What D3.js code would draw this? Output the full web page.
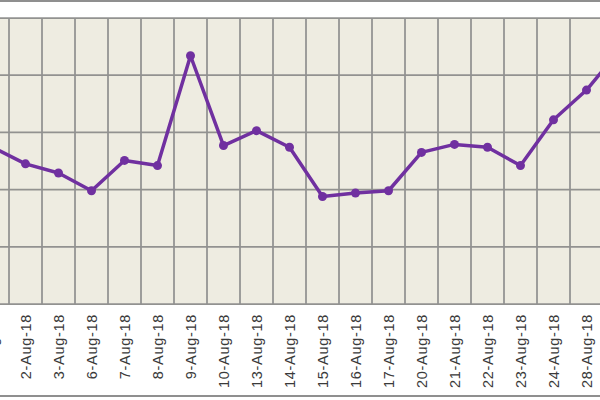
<!DOCTYPE html>
<html>
<head>
<meta charset="utf-8">
<script src="https://cdn.jsdelivr.net/npm/d3@7"></script>
<style>
  body { margin: 0; background: #fff; }
  svg { display: block; }
</style>
</head>
<body>
<div id="chart"></div>
<script>
// categories (trading days) and values
const dates = ['1-Aug-18', '2-Aug-18', '3-Aug-18', '6-Aug-18', '7-Aug-18', '8-Aug-18', '9-Aug-18',
    '10-Aug-18', '13-Aug-18', '14-Aug-18', '15-Aug-18', '16-Aug-18', '17-Aug-18', '20-Aug-18',
    '21-Aug-18', '22-Aug-18', '23-Aug-18', '24-Aug-18', '28-Aug-18', '29-Aug-18'];
const values = [2.74, 2.45, 2.29, 1.98, 2.51, 2.42, 4.34, 2.77, 3.03, 2.74,
    1.88, 1.94, 1.98, 2.65, 2.79, 2.74, 2.42, 3.22, 3.74, 4.44];
const yTicks = [0, 1, 2, 3, 4, 5];

const width = 600, height = 400;
const plotTop = 18, plotBottom = 304;

const svg = d3.select("#chart")
    .append("svg")
    .attr("width", width)
    .attr("height", height);

// frame lines of the cropped chart
svg.append("line").attr("x1", 0).attr("x2", width).attr("y1", 1).attr("y2", 1)
    .attr("stroke", "#8f8f8f").attr("stroke-width", 2);
svg.append("line").attr("x1", 0).attr("x2", width).attr("y1", 396).attr("y2", 396)
    .attr("stroke", "#8f8f8f").attr("stroke-width", 2);

const x = d3.scaleBand()
    .domain(dates)
    .range([-24, -24 + dates.length * 33])
    .padding(0);

const y = d3.scaleLinear()
    .domain([0, 5])
    .range([plotBottom, plotTop]);

// plot area
svg.append("rect")
    .attr("x", 0).attr("y", plotTop)
    .attr("width", width).attr("height", plotBottom - plotTop)
    .attr("fill", "#EEECE1");

// horizontal gridlines
svg.append("g").selectAll("line")
    .data(yTicks)
    .join("line")
    .attr("x1", 0).attr("x2", width)
    .attr("y1", d => y(d)).attr("y2", d => y(d))
    .attr("stroke", "#929290").attr("stroke-width", 1.75);

// vertical gridlines between categories
const bounds = dates.map(d => x(d)).concat([x(dates[dates.length - 1]) + x.bandwidth()]);
svg.append("g").selectAll("line")
    .data(bounds)
    .join("line")
    .attr("x1", d => d).attr("x2", d => d)
    .attr("y1", plotTop).attr("y2", plotBottom)
    .attr("stroke", "#929290").attr("stroke-width", 1.75);

// x axis labels
const xAxis = svg.append("g")
    .attr("transform", `translate(0,${plotBottom})`)
    .call(d3.axisBottom(x).tickSize(0));
xAxis.select(".domain").remove();
xAxis.selectAll("text")
    .attr("transform", "rotate(-90)")
    .attr("x", -10)
    .attr("y", 0)
    .attr("dy", "0.35em")
    .style("text-anchor", "end")
    .style("font-family", "Liberation Sans, Arial, sans-serif")
    .style("font-size", "14.5px")
    .style("letter-spacing", "0.7px")
    .attr("fill", "#3a3a3a");

const data = dates.map((d, i) => ({ date: d, value: values[i] }));
const cx = d => x(d.date) + x.bandwidth() / 2;

const line = d3.line()
    .x(cx)
    .y(d => y(d.value));

svg.append("path")
    .datum(data)
    .attr("fill", "none")
    .attr("stroke", "#7030A0")
    .attr("stroke-width", 3.5)
    .attr("stroke-linejoin", "round")
    .attr("d", line);

svg.append("g").selectAll("circle")
    .data(data)
    .join("circle")
    .attr("cx", cx)
    .attr("cy", d => y(d.value))
    .attr("r", 4.5)
    .attr("fill", "#7030A0");
</script>
</body>
</html>
